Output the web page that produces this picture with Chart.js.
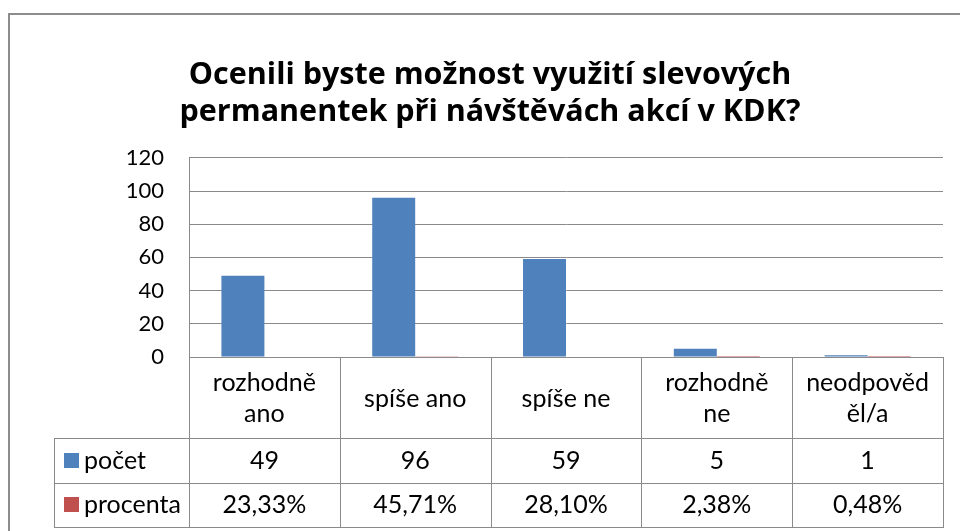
<!DOCTYPE html>
<html>
<head>
<meta charset="utf-8">
<script src="https://cdn.jsdelivr.net/npm/chart.js@4"></script>
<style>
    html, body { margin: 0; padding: 0; background: #fff; }
    #wrap { width: 960px; height: 531px; }
</style>
</head>
<body>
<div id="wrap"><canvas id="myChart"></canvas></div>
<script>
// Data
const categories = [['rozhodně', 'ano'], ['spíše ano'], ['spíše ne'], ['rozhodně', 'ne'], ['neodpověd', 'ěl/a']];
const pocet = [49, 96, 59, 5, 1];
const procenta = [0.2333, 0.4571, 0.2810, 0.0238, 0.0048];
const seriesNames = ['počet', 'procenta'];
const yTicks = [0, 20, 40, 60, 80, 100, 120];

const FONT = 'Lato, "Open Sans", sans-serif';
const TITLE_FONT = '"Open Sans", Lato, sans-serif';
const BLUE = '#4F81BD';
const RED = '#C0504D';
const GRID = '#8a8a8a';

function formatPercent(v) {
    return (v * 100).toFixed(2).replace('.', ',') + '%';
}

// Outer frame like the Excel chart area
const framePlugin = {
    id: 'frame',
    afterDraw(chart) {
        const ctx = chart.ctx;
        ctx.save();
        ctx.strokeStyle = '#8c8c8c';
        ctx.lineWidth = 2;
        ctx.strokeRect(9, 14, 1000, 600);
        ctx.restore();
    }
};

// Data table under the plot, drawn from the x scale
const dataTablePlugin = {
    id: 'dataTable',
    afterDraw(chart) {
        const ctx = chart.ctx;
        const area = chart.chartArea;
        const x = chart.scales.x;
        const n = categories.length;
        const colW = (area.right - area.left) / n;
        const top = area.bottom;
        const headBottom = top + 81;
        const row1 = headBottom + 45;
        const row2 = row1 + 44;
        const legLeft = 54;

        ctx.save();
        ctx.strokeStyle = GRID;
        ctx.lineWidth = 1;
        ctx.beginPath();
        // vertical column lines
        for (let i = 0; i <= n; i++) {
            const px = Math.round(area.left + i * colW) + 0.5;
            ctx.moveTo(px, top);
            ctx.lineTo(px, row2);
        }
        // legend column left edge
        ctx.moveTo(legLeft + 0.5, headBottom);
        ctx.lineTo(legLeft + 0.5, row2);
        // horizontal lines
        [top, headBottom, row1, row2].forEach((y, i) => {
            const left = i === 0 ? area.left : legLeft;
            ctx.moveTo(left, Math.round(y) + 0.5);
            ctx.lineTo(area.right + 1, Math.round(y) + 0.5);
        });
        ctx.stroke();

        ctx.fillStyle = '#000';
        ctx.font = '25px ' + FONT;
        ctx.textAlign = 'center';
        ctx.textBaseline = 'middle';
        const headMid = (top + headBottom) / 2 + 1;
        categories.forEach((lines, i) => {
            const cx = x.getPixelForValue(i);
            const lh = 31;
            lines.forEach((t, j) => {
                ctx.fillText(t, cx, headMid + (j - (lines.length - 1) / 2) * lh);
            });
            ctx.fillText(String(pocet[i]), cx, (headBottom + row1) / 2);
            ctx.fillText(formatPercent(procenta[i]), cx, (row1 + row2) / 2);
        });

        // legend keys with series names
        ctx.textAlign = 'left';
        [[BLUE, (headBottom + row1) / 2], [RED, (row1 + row2) / 2]].forEach(([c, y], i) => {
            ctx.fillStyle = c;
            ctx.fillRect(64, Math.round(y) - 8, 15, 15);
            ctx.fillStyle = '#000';
            ctx.fillText(seriesNames[i], 84, y);
        });
        ctx.restore();
    }
};

const data = {
    labels: categories,
    datasets: [
        { label: seriesNames[0], data: pocet, backgroundColor: BLUE },
        { label: seriesNames[1], data: procenta, backgroundColor: RED }
    ]
};

const config = {
    type: 'bar',
    data: data,
    options: {
        responsive: true,
        maintainAspectRatio: false,
        animation: false,
        layout: {
            padding: { left: 37, right: 17, top: 0, bottom: 174 }
        },
        datasets: {
            bar: { categoryPercentage: 0.57, barPercentage: 1 }
        },
        scales: {
            x: { display: false },
            y: {
                min: 0,
                max: 120,
                afterBuildTicks: (scale) => { scale.ticks = yTicks.map(v => ({ value: v })); },
                afterFit: (scale) => { scale.width = 152; },
                grid: { color: GRID, drawTicks: false },
                border: { color: GRID },
                ticks: {
                    color: '#000',
                    padding: 25,
                    font: { family: FONT, size: 22 }
                }
            }
        },
        plugins: {
            legend: { display: false },
            tooltip: { enabled: false },
            title: {
                display: true,
                text: ['Ocenili byste možnost využití slevových', 'permanentek při návštěvách akcí v KDK?'],
                color: '#000',
                font: { family: TITLE_FONT, size: 30.5, weight: 'bold', lineHeight: 1.21 },
                padding: { top: 57, bottom: 27 }
            }
        }
    },
    plugins: [framePlugin, dataTablePlugin]
};

new Chart(document.getElementById('myChart').getContext('2d'), config);
</script>
</body>
</html>
